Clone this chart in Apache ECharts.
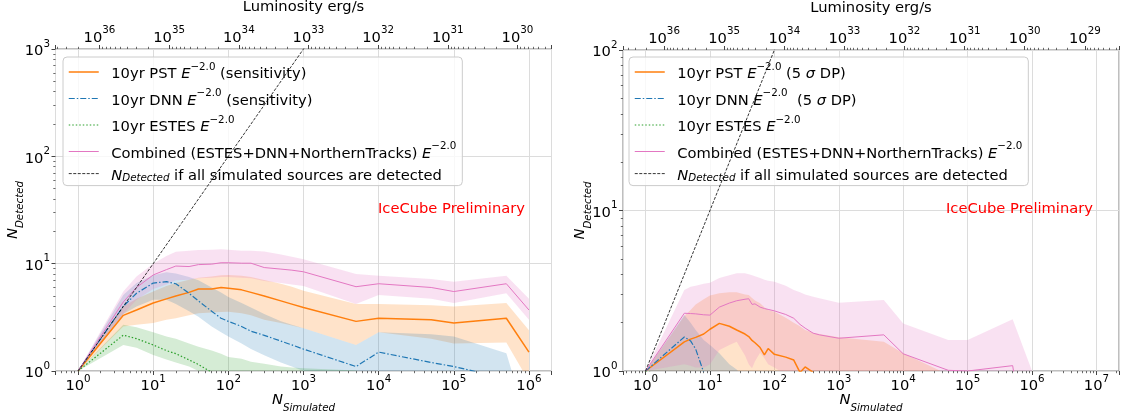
<!DOCTYPE html>
<html><head><meta charset="utf-8">
<script src="https://cdn.jsdelivr.net/npm/echarts@6/dist/echarts.min.js"></script>
<style>html,body{margin:0;padding:0;background:#fff}#c{width:1121px;height:416px}</style>
</head><body><div id="c"></div>
<script>
// ---------------- data: left panel (sensitivity) ----------------
const L_N = [1, 4, 6, 10, 15, 20, 30, 40, 60, 80, 100, 150, 200, 300, 500, 700, 1000, 5000, 10000, 50000, 100000, 500000, 1000000];
const L_PST    = [1, 3.3, 3.7, 4.3, 4.7, 5.0, 5.4, 5.8, 5.8, 6.0, 5.9, 5.7, 5.4, 5.0, 4.5, 4.2, 3.9, 2.9, 3.1, 3.0, 2.8, 3.1, 1.5];
const L_PST_LO = [1, 2.6, 2.7, 2.8, 3.0, 3.1, 3.3, 3.45, 3.5, 3.55, 3.57, 3.45, 3.3, 3.0, 2.8, 2.65, 2.5, 1.75, 2.3, 2.0, 1.8, 1.84, 0.8];
const L_PST_HI = [1, 4.0, 4.7, 5.5, 6.2, 6.6, 7.1, 7.4, 7.6, 7.8, 7.85, 7.7, 7.5, 7.05, 6.5, 6.1, 5.6, 4.2, 4.2, 4.1, 4.0, 4.3, 2.4];
const L_DNN    = [1, 4.0, 5.3, 6.6, 6.8, 6.5, 5.3, 4.5, 3.6, 3.1, 2.9, 2.6, 2.35, 2.15, 1.9, 1.75, 1.6, 1.1, 1.5, 1.2, 1.1, 0.85, 0.7];
const L_DNN_LO = [1, 3.4, 4.0, 4.6, 4.6, 4.2, 3.6, 3.2, 2.6, 2.3, 2.1, 1.8, 1.6, 1.4, 1.2, 1.1, 1.0, 0.7, 0.9, 0.7, 0.6, 0.5, 0.4];
const L_DNN_HI = [1, 5.1, 6.6, 7.8, 8.3, 8.1, 7.5, 7.0, 6.0, 5.4, 4.9, 4.3, 3.9, 3.4, 2.9, 2.7, 2.5, 1.75, 2.3, 2.2, 2.1, 1.46, 0.3];
const L_EST    = [1, 2.16, 2.0, 1.75, 1.55, 1.45, 1.27, 1.15, 0.97, 0.9, 0.85, 0.78, 0.72, 0.65, 0.55, 0.5, 0.45, 0.3, 0.25, 0.2, 0.18, 0.15, 0.12];
const L_EST_LO = [1, 1.75, 1.65, 1.41, 1.28, 1.2, 1.1, 1.0, 0.85, 0.78, 0.72, 0.66, 0.6, 0.55, 0.47, 0.42, 0.38, 0.25, 0.2, 0.17, 0.15, 0.12, 0.1];
const L_EST_HI = [1, 2.7, 2.55, 2.3, 2.1, 2.0, 1.8, 1.68, 1.55, 1.45, 1.35, 1.3, 1.22, 1.17, 1.1, 1.08, 1.06, 1.01, 0.9, 0.8, 0.75, 0.7, 0.6];
const L_CMB    = [1, 4.4, 6.0, 7.85, 8.8, 9.5, 9.4, 9.8, 9.9, 10.2, 10.2, 10.1, 10.1, 9.2, 8.9, 8.7, 8.4, 6.1, 6.5, 6.0, 5.5, 6.5, 3.7];
const L_CMB_LO = [1, 3.4, 4.6, 5.8, 6.4, 7.0, 7.1, 7.3, 7.4, 7.5, 7.5, 7.4, 7.3, 6.9, 6.6, 6.4, 6.2, 4.2, 5.1, 4.7, 4.3, 5.3, 3.0];
const L_CMB_HI = [1, 5.5, 7.6, 10.0, 11.8, 12.9, 13.2, 13.4, 13.5, 13.6, 13.5, 13.2, 13.2, 13.0, 12.2, 11.6, 11.0, 8.0, 7.7, 7.2, 6.8, 7.7, 4.7];
const L_DIAG_N = [1, 1000000];
const L_DIAG   = [1, 1000000];

// ---------------- data: right panel (5 sigma DP) ----------------
const R_N = [1, 4, 5, 6, 8, 10, 14, 20, 26, 35, 40, 45, 50, 60, 70, 80, 100, 150, 200, 250, 300, 400, 500, 1000, 5000, 10000, 50000, 100000, 500000, 1000000];
const R_PST    = [1, 1.52, 1.58, 1.62, 1.7, 1.82, 1.98, 1.9, 1.8, 1.7, 1.64, 1.55, 1.5, 1.4, 1.26, 1.38, 1.27, 1.22, 1.17, 0.98, 1.06, 0.98, 0.8, 0.5, 0.3, 0.25, 0.2, 0.2, 0.15, 0.1];
const R_PST_LO = [1, 0.95, 0.9, 0.88, 0.85, 0.82, 0.8, 0.78, 0.75, 0.72, 0.7, 0.68, 0.66, 0.62, 0.6, 0.58, 0.55, 0.5, 0.45, 0.42, 0.4, 0.38, 0.35, 0.3, 0.2, 0.15, 0.1, 0.1, 0.1, 0.05];
const R_PST_HI = [1, 2.2, 2.4, 2.6, 2.8, 2.95, 3.05, 3.1, 3.1, 3.0, 2.97, 2.85, 2.75, 2.64, 2.5, 2.4, 2.34, 2.15, 2.0, 1.9, 1.8, 1.73, 1.7, 1.62, 1.52, 1.29, 0.95, 0.8, 0.5, 0.3];
const R_DNN    = [1, 1.63, 1.54, 1.37, 0.98, 0.7, 0.5, 0.4, 0.35, 0.3, 0.28, 0.26, 0.25, 0.22, 0.2, 0.19, 0.17, 0.15, 0.13, 0.12, 0.11, 0.1, 0.1, 0.08, 0.05, 0.05, 0.05, 0.05, 0.05, 0.05];
const R_DNN_LO = [1, 1.0, 0.9, 0.8, 0.6, 0.4, 0.3, 0.25, 0.2, 0.18, 0.16, 0.15, 0.14, 0.12, 0.11, 0.1, 0.09, 0.08, 0.07, 0.06, 0.06, 0.05, 0.05, 0.04, 0.03, 0.03, 0.03, 0.03, 0.03, 0.03];
const R_DNN_HI = [1, 2.23, 2.0, 1.8, 1.56, 1.45, 1.29, 1.1, 1.02, 0.9, 0.85, 0.8, 0.75, 0.7, 0.65, 0.6, 0.55, 0.5, 0.45, 0.4, 0.38, 0.35, 0.3, 0.25, 0.2, 0.15, 0.1, 0.1, 0.1, 0.1];
const R_EST    = [1, 0.85, 0.8, 0.75, 0.7, 0.65, 0.6, 0.55, 0.5, 0.45, 0.42, 0.4, 0.38, 0.35, 0.33, 0.3, 0.28, 0.25, 0.22, 0.2, 0.18, 0.16, 0.15, 0.12, 0.1, 0.1, 0.1, 0.1, 0.1, 0.1];
const R_EST_LO = [1, 0.7, 0.65, 0.6, 0.55, 0.5, 0.45, 0.42, 0.38, 0.35, 0.32, 0.3, 0.28, 0.26, 0.25, 0.22, 0.2, 0.18, 0.16, 0.15, 0.14, 0.12, 0.11, 0.09, 0.07, 0.07, 0.07, 0.07, 0.07, 0.07];
const R_EST_HI = [1, 0.98, 0.92, 0.86, 0.8, 0.75, 0.69, 0.63, 0.58, 0.52, 0.48, 0.46, 0.44, 0.4, 0.38, 0.35, 0.32, 0.29, 0.25, 0.23, 0.21, 0.18, 0.17, 0.14, 0.12, 0.12, 0.12, 0.12, 0.12, 0.12];
const R_CMB    = [1, 2.29, 2.28, 2.27, 2.24, 2.23, 2.5, 2.65, 2.74, 2.8, 2.82, 2.6, 2.62, 2.5, 2.45, 2.42, 2.37, 2.25, 2.13, 1.95, 1.85, 1.72, 1.68, 1.6, 1.68, 1.28, 1.01, 1.0, 1.08, 0.2];
const R_CMB_LO = [1, 1.1, 1.08, 1.05, 1.05, 1.1, 1.35, 1.45, 1.52, 1.25, 1.1, 1.04, 1.15, 1.3, 1.2, 1.1, 1.05, 0.95, 0.9, 0.85, 0.8, 0.75, 0.7, 0.6, 0.6, 0.5, 0.4, 0.4, 0.4, 0.1];
const R_CMB_HI = [1, 3.2, 3.35, 3.4, 3.5, 3.55, 3.8, 3.95, 4.06, 4.06, 4.0, 3.95, 3.9, 3.8, 3.7, 3.65, 3.6, 3.4, 3.2, 3.1, 3.0, 2.9, 2.84, 2.66, 2.77, 1.98, 1.56, 1.56, 2.1, 1.0];
const R_DIAG_N = [1, 10000000];
const R_DIAG   = [1, 10000000];

// ---------------- axis extents (log10) ----------------
const L_XLOG = [-0.3, 6.3],  L_YMAX = 1000, L_LUMLOG = [29.511, 36.631];
const R_XLOG = [-0.35, 7.35], R_YMAX = 100,  R_LUMLOG = [28.432, 36.683];

const TITLE_TOP = 'Luminosity erg/s';
const WATERMARK = 'IceCube Preliminary';

// ---------------- styling ----------------
const FONT = 'DejaVu Sans', FS = 14.7, FSS = 10.3, TXT = '#000';
const SPINE = '#7f7f7f', GRIDC = '#dcdcdc', TICKC = '#444';
const C = {pst: '#ff7f0e', dnn: '#1f77b4', est: '#2ca02c', cmb: '#e377c2'};
const FILL = {pst: 'rgba(255,127,14,0.22)', dnn: 'rgba(31,119,180,0.2)', est: 'rgba(44,160,44,0.2)', cmb: 'rgba(227,119,194,0.22)'};
const LS = {
  pst: {width: 1.5, type: 'solid'},
  dnn: {width: 1.2, type: [6, 2, 1.5, 2]},
  est: {width: 1.2, type: [1.5, 2]},
  cmb: {width: 1.0, type: 'solid'},
  diag: {width: 0.8, type: [3, 1.5]}
};

const richTick = {
  b: {fontFamily: FONT, fontSize: FS, lineHeight: 20, verticalAlign: 'bottom', color: TXT},
  s: {fontFamily: FONT, fontSize: FSS, lineHeight: 11, verticalAlign: 'top', color: TXT}
};
const richName = {
  n: {fontFamily: FONT, fontSize: FS, fontStyle: 'italic', lineHeight: 20, verticalAlign: 'top', color: TXT},
  sb: {fontFamily: FONT, fontSize: FSS, fontStyle: 'italic', lineHeight: 12, verticalAlign: 'bottom', color: TXT}
};
const richLeg = {
  g: {width: 7.5, fontSize: FS, lineHeight: 20, verticalAlign: 'bottom'},
  r: {fontFamily: FONT, fontSize: FS, lineHeight: 20, verticalAlign: 'bottom', color: TXT},
  i: {fontFamily: FONT, fontSize: FS, fontStyle: 'italic', lineHeight: 20, verticalAlign: 'bottom', color: TXT},
  sp: {fontFamily: FONT, fontSize: FSS, lineHeight: 11, verticalAlign: 'top', color: TXT},
  sb: {fontFamily: FONT, fontSize: FSS, fontStyle: 'italic', lineHeight: 12, verticalAlign: 'bottom', color: TXT}
};
const LEG_TEXT = {
  pstL: '{g| }{r|10yr PST }{i|E}{sp|\u22122.0}{r| (sensitivity)}',
  dnnL: '{g| }{r|10yr DNN }{i|E}{sp|\u22122.0}{r| (sensitivity)}',
  estL: '{g| }{r|10yr ESTES }{i|E}{sp|\u22122.0}',
  cmbL: '{g| }{r|Combined (ESTES+DNN+NorthernTracks) }{i|E}{sp|\u22122.0}',
  diagL: '{g| }{i|N}{sb|Detected}{r| if all simulated sources are detected}',
  pstR: '{g| }{r|10yr PST }{i|E}{sp|\u22122.0}{r| (5 }{i|\u03c3}{r| DP)}',
  dnnR: '{g| }{r|10yr DNN }{i|E}{sp|\u22122.0}{r|  (5 }{i|\u03c3}{r| DP)}',
  estR: '{g| }{r|10yr ESTES }{i|E}{sp|\u22122.0}',
  cmbR: '{g| }{r|Combined (ESTES+DNN+NorthernTracks) }{i|E}{sp|\u22122.0}',
  diagR: '{g| }{i|N}{sb|Detected}{r| if all simulated sources are detected}'
};

function powLabel(v) {
  const e = Math.log10(v), r = Math.round(e);
  if (Math.abs(e - r) > 1e-6) return '';
  return '{b|10}{s|' + r + '}';
}
function minors(lo, hi) {
  const out = [];
  for (let k = Math.floor(Math.log10(lo)) - 1; k <= Math.ceil(Math.log10(hi)); k++)
    for (let m = 2; m <= 9; m++) { const v = m * Math.pow(10, k); if (v > lo * 1.0001 && v < hi / 1.0001) out.push(v); }
  return out;
}
const P = a => Math.pow(10, a);

function mainX(grid, ext, name) {
  return {type: 'log', logBase: 10, gridIndex: grid, position: 'bottom', min: P(ext[0]), max: P(ext[1]),
    axisLine: {show: false}, axisTick: {show: true, length: 4, lineStyle: {color: TICKC, width: 1}},
    axisLabel: {formatter: powLabel, rich: richTick, margin: 3},
    splitLine: {show: true, lineStyle: {color: GRIDC, width: 1}},
    name: name, nameLocation: 'middle', nameGap: 22, nameMoveOverlap: false, nameTextStyle: {rich: richName}};
}
function lumX(grid, ext) {
  return {type: 'log', logBase: 10, gridIndex: grid, position: 'top', inverse: true, min: P(ext[0]), max: P(ext[1]),
    axisLine: {show: false}, axisTick: {show: true, length: 4, lineStyle: {color: TICKC, width: 1}},
    axisLabel: {formatter: powLabel, rich: richTick, margin: 3.5},
    splitLine: {show: false},
    name: TITLE_TOP, nameLocation: 'middle', nameGap: 34, nameMoveOverlap: false,
    nameTextStyle: {fontFamily: FONT, fontSize: FS, color: TXT}};
}
function minorX(grid, ext, pos, inverse) {
  const lo = P(ext[0]), hi = P(ext[1]);
  return {type: 'log', logBase: 10, gridIndex: grid, position: pos, inverse: !!inverse, min: lo, max: hi,
    axisLine: {show: false}, axisLabel: {show: false}, splitLine: {show: false},
    axisTick: {show: true, length: 2.2, customValues: minors(lo, hi), lineStyle: {color: TICKC, width: 0.8}}};
}
function mainY(grid, ymax) {
  return {type: 'log', logBase: 10, gridIndex: grid, min: 1, max: ymax,
    axisLine: {show: false}, axisTick: {show: true, length: 4, lineStyle: {color: TICKC, width: 1}},
    axisLabel: {formatter: powLabel, rich: richTick, margin: 5.5},
    splitLine: {show: true, lineStyle: {color: GRIDC, width: 1}},
    name: '{n|N}{sb|Detected}', nameLocation: 'middle', nameGap: 30, nameRotate: 90, nameMoveOverlap: false,
    nameTextStyle: {rich: richName}};
}
function minorY(grid, ymax) {
  return {type: 'log', logBase: 10, gridIndex: grid, min: 1, max: ymax,
    axisLine: {show: false}, axisLabel: {show: false}, splitLine: {show: false},
    axisTick: {show: true, length: 2.2, customValues: minors(1, ymax), lineStyle: {color: TICKC, width: 0.8}}};
}

function band(name, xi, yi, Ns, lo, hi, fill) {
  return {
    type: 'custom', name: name, xAxisIndex: xi, yAxisIndex: yi, z: 2, silent: true, clip: true,
    data: [[Ns[0], hi[0]]],
    renderItem: function (params, api) {
      const pts = [];
      for (let i = 0; i < Ns.length; i++) pts.push(api.coord([Ns[i], hi[i]]));
      for (let i = Ns.length - 1; i >= 0; i--) pts.push(api.coord([Ns[i], lo[i]]));
      const cs = params.coordSys;
      return {type: 'group',
        clipPath: {type: 'rect', shape: {x: cs.x, y: cs.y, width: cs.width, height: cs.height}},
        children: [{type: 'polygon', shape: {points: pts}, style: {fill: fill, stroke: null}}]};
    }
  };
}
function line(name, xi, yi, Ns, vals, color, ls) {
  return {type: 'line', name: name, xAxisIndex: xi, yAxisIndex: yi, z: 4, clip: true,
    symbol: 'none', showSymbol: false, silent: true, animation: false,
    data: Ns.map((n, i) => [n, vals[i]]),
    itemStyle: {color: color},
    lineStyle: {color: color, width: ls.width, type: ls.type}};
}

const series = [
  band('bPL', 0, 0, L_N, L_PST_LO, L_PST_HI, FILL.pst),
  band('bDL', 0, 0, L_N, L_DNN_LO, L_DNN_HI, FILL.dnn),
  band('bEL', 0, 0, L_N, L_EST_LO, L_EST_HI, FILL.est),
  band('bCL', 0, 0, L_N, L_CMB_LO, L_CMB_HI, FILL.cmb),
  band('bPR', 2, 1, R_N, R_PST_LO, R_PST_HI, FILL.pst),
  band('bDR', 2, 1, R_N, R_DNN_LO, R_DNN_HI, FILL.dnn),
  band('bER', 2, 1, R_N, R_EST_LO, R_EST_HI, FILL.est),
  band('bCR', 2, 1, R_N, R_CMB_LO, R_CMB_HI, FILL.cmb),
  line('pstL', 0, 0, L_N, L_PST, C.pst, LS.pst),
  line('dnnL', 0, 0, L_N, L_DNN, C.dnn, LS.dnn),
  line('estL', 0, 0, L_N, L_EST, C.est, LS.est),
  line('cmbL', 0, 0, L_N, L_CMB, C.cmb, LS.cmb),
  line('diagL', 0, 0, L_DIAG_N, L_DIAG, '#000', LS.diag),
  line('pstR', 2, 1, R_N, R_PST, C.pst, LS.pst),
  line('dnnR', 2, 1, R_N, R_DNN, C.dnn, LS.dnn),
  line('estR', 2, 1, R_N, R_EST, C.est, LS.est),
  line('cmbR', 2, 1, R_N, R_CMB, C.cmb, LS.cmb),
  line('diagR', 2, 1, R_DIAG_N, R_DIAG, '#000', LS.diag)
];

function legend(names, left) {
  return {data: names, orient: 'vertical', left: left, top: 57, itemWidth: 30, itemHeight: 14, itemGap: 6.5,
    padding: [5, 6, 2, 5], backgroundColor: 'rgba(255,255,255,0.8)', borderColor: '#cccccc', borderWidth: 1, borderRadius: 4,
    selectedMode: false, itemStyle: {opacity: 0}, lineStyle: {width: 'inherit', type: 'inherit'},
    formatter: n => LEG_TEXT[n], textStyle: {fontFamily: FONT, fontSize: FS, color: TXT, rich: richLeg}};
}

const gridL = {left: 55.5, top: 49, width: 496, height: 322, outerBoundsMode: 'none', containLabel: false};
const gridR = {left: 623, top: 50, width: 496, height: 321, outerBoundsMode: 'none', containLabel: false};
const spine = {show: true, borderColor: SPINE, borderWidth: 1, backgroundColor: 'transparent'};

const option = {
  animation: false,
  backgroundColor: '#fff',
  grid: [
    Object.assign({}, gridL, spine),
    Object.assign({}, gridR, spine),
    Object.assign({}, gridL, {show: false}),
    Object.assign({}, gridR, {show: false})
  ],
  xAxis: [
    mainX(0, L_XLOG, '{n|N}{sb|Simulated}'),
    lumX(0, L_LUMLOG),
    mainX(1, R_XLOG, '{n|N}{sb|Simulated}'),
    lumX(1, R_LUMLOG),
    minorX(2, L_XLOG, 'bottom'),
    minorX(2, L_LUMLOG, 'top', true),
    minorX(3, R_XLOG, 'bottom'),
    minorX(3, R_LUMLOG, 'top', true)
  ],
  yAxis: [mainY(0, L_YMAX), mainY(1, R_YMAX), minorY(2, L_YMAX), minorY(3, R_YMAX)],
  legend: [legend(['pstL', 'dnnL', 'estL', 'cmbL', 'diagL'], 63), legend(['pstR', 'dnnR', 'estR', 'cmbR', 'diagR'], 629)],
  graphic: [
    {type: 'text', x: 378, y: 209, z: 10, style: {text: WATERMARK, fill: '#ff0000', fontFamily: FONT, fontSize: FS, verticalAlign: 'middle'}},
    {type: 'text', x: 946, y: 209, z: 10, style: {text: WATERMARK, fill: '#ff0000', fontFamily: FONT, fontSize: FS, verticalAlign: 'middle'}}
  ],
  series: series
};

const chart = echarts.init(document.getElementById('c'), null, {renderer: 'canvas'});
chart.setOption(option);
</script>
</body></html>
